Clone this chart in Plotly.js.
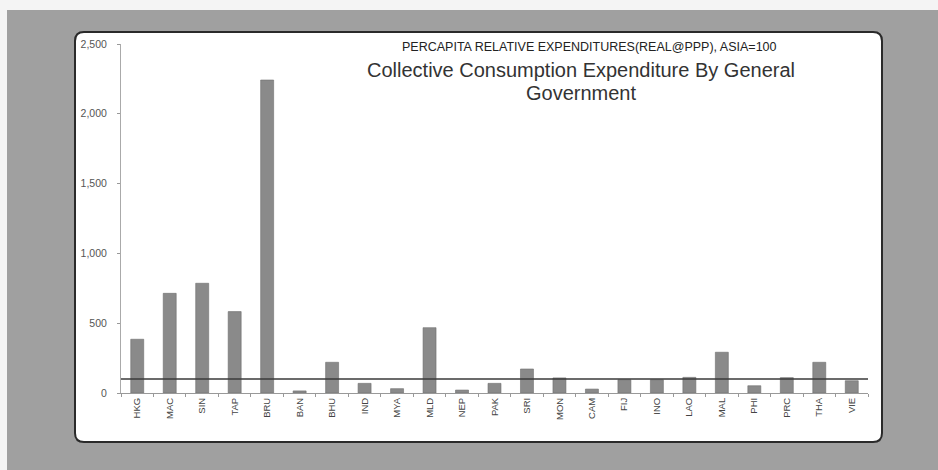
<!DOCTYPE html>
<html>
<head>
<meta charset="utf-8">
<script src="https://cdn.plot.ly/plotly-3.0.1.min.js"></script>
<style>
html,body{margin:0;padding:0;background:#f4f4f4;}
#chart{width:938px;height:470px;}
</style>
</head>
<body>
<div id="chart"></div>
<script>
const categories = ["HKG","MAC","SIN","TAP","BRU","BAN","BHU","IND","MYA","MLD","NEP","PAK","SRI","MON","CAM","FIJ","INO","LAO","MAL","PHI","PRC","THA","VIE"];
const values = [385,714,786,583,2242,15,220,69,31,468,21,69,172,108,28,95,95,112,292,52,110,220,88];
const asiaLevel = 100;
const yTickVals = [0,500,1000,1500,2000,2500];

const W = 938, H = 470;
const plotL = 121, plotR = 868, plotT = 44, plotB = 393;
const pw = plotR - plotL, ph = plotB - plotT;
function px(x){ return (x - plotL) / pw; }
function py(y){ return (plotB - y) / ph; }

// rounded panel path in paper coordinates
function roundedRect(x0,y0,x1,y1,r){
  const p = [];
  p.push('M', px(x0+r), py(y0));
  p.push('L', px(x1-r), py(y0));
  p.push('Q', px(x1), py(y0), px(x1), py(y0+r));
  p.push('L', px(x1), py(y1-r));
  p.push('Q', px(x1), py(y1), px(x1-r), py(y1));
  p.push('L', px(x0+r), py(y1));
  p.push('Q', px(x0), py(y1), px(x0), py(y1-r));
  p.push('L', px(x0), py(y0+r));
  p.push('Q', px(x0), py(y0), px(x0+r), py(y0));
  p.push('Z');
  let s = '';
  for (let i=0;i<p.length;i++){
    const v = p[i];
    if (typeof v === 'string') s += v + ' ';
    else { s += v.toFixed(5); s += (typeof p[i+1] === 'number') ? ',' : ' '; }
  }
  return s.trim();
}

const data = [{
  type: 'bar',
  x: categories,
  y: values,
  marker: {color: '#8a8a8a', line: {color: '#6f6f6f', width: 0.6}},
  hoverinfo: 'x+y'
}];

const layout = {
  width: W, height: H,
  margin: {l: plotL, r: W - plotR, t: plotT, b: H - plotB},
  paper_bgcolor: '#f4f4f4',
  plot_bgcolor: 'rgba(0,0,0,0)',
  showlegend: false,
  bargap: 0.6,
  font: {family: 'Liberation Sans, Arial, sans-serif', color: '#555'},
  xaxis: {
    type: 'category',
    tickangle: -90,
    tickfont: {size: 9.5, color: '#444'},
    ticks: 'outside', ticklen: 3, tickcolor: '#999',
    tickson: 'boundaries',
    showline: true, linecolor: '#999', linewidth: 1,
    showgrid: false, zeroline: false,
    fixedrange: true
  },
  yaxis: {
    range: [0, 2500],
    tickvals: yTickVals,
    tickformat: ',d',
    tickfont: {size: 10.5, color: '#555'},
    ticks: 'outside', ticklen: 3, tickcolor: '#999',
    ticklabelstandoff: 8,
    showline: true, linecolor: '#aaa', linewidth: 1,
    showgrid: false, zeroline: false,
    fixedrange: true
  },
  shapes: [
    {type:'rect', xref:'paper', yref:'paper', layer:'below',
     x0: px(7), x1: px(W+5), y0: py(10), y1: py(H+5),
     fillcolor:'#a0a0a0', line:{width:0}},
    {type:'path', xref:'paper', yref:'paper', layer:'below',
     path: roundedRect(75, 32, 882, 442, 9),
     fillcolor:'#ffffff', line:{color:'#2a2a2a', width:2}},
    {type:'line', xref:'paper', yref:'y', layer:'above',
     x0: 0, x1: 1, y0: asiaLevel, y1: asiaLevel,
     line:{color:'#3a3a3a', width:1.6}}
  ],
  annotations: [
    {xref:'paper', yref:'paper', x: px(589), y: py(47), xanchor:'center', yanchor:'middle',
     text:'PERCAPITA RELATIVE EXPENDITURES(REAL@PPP), ASIA=100', showarrow:false,
     font:{size:12.5, color:'#222', family:'Liberation Sans, Arial, sans-serif'}},
    {xref:'paper', yref:'paper', x: px(581), y: py(70), xanchor:'center', yanchor:'middle',
     text:'Collective Consumption Expenditure By General', showarrow:false,
     font:{size:20, color:'#333', family:'Liberation Sans, Arial, sans-serif'}},
    {xref:'paper', yref:'paper', x: px(581), y: py(93), xanchor:'center', yanchor:'middle',
     text:'Government', showarrow:false,
     font:{size:20, color:'#333', family:'Liberation Sans, Arial, sans-serif'}}
  ]
};

Plotly.newPlot('chart', data, layout, {displayModeBar: false, staticPlot: true});
</script>
</body>
</html>
